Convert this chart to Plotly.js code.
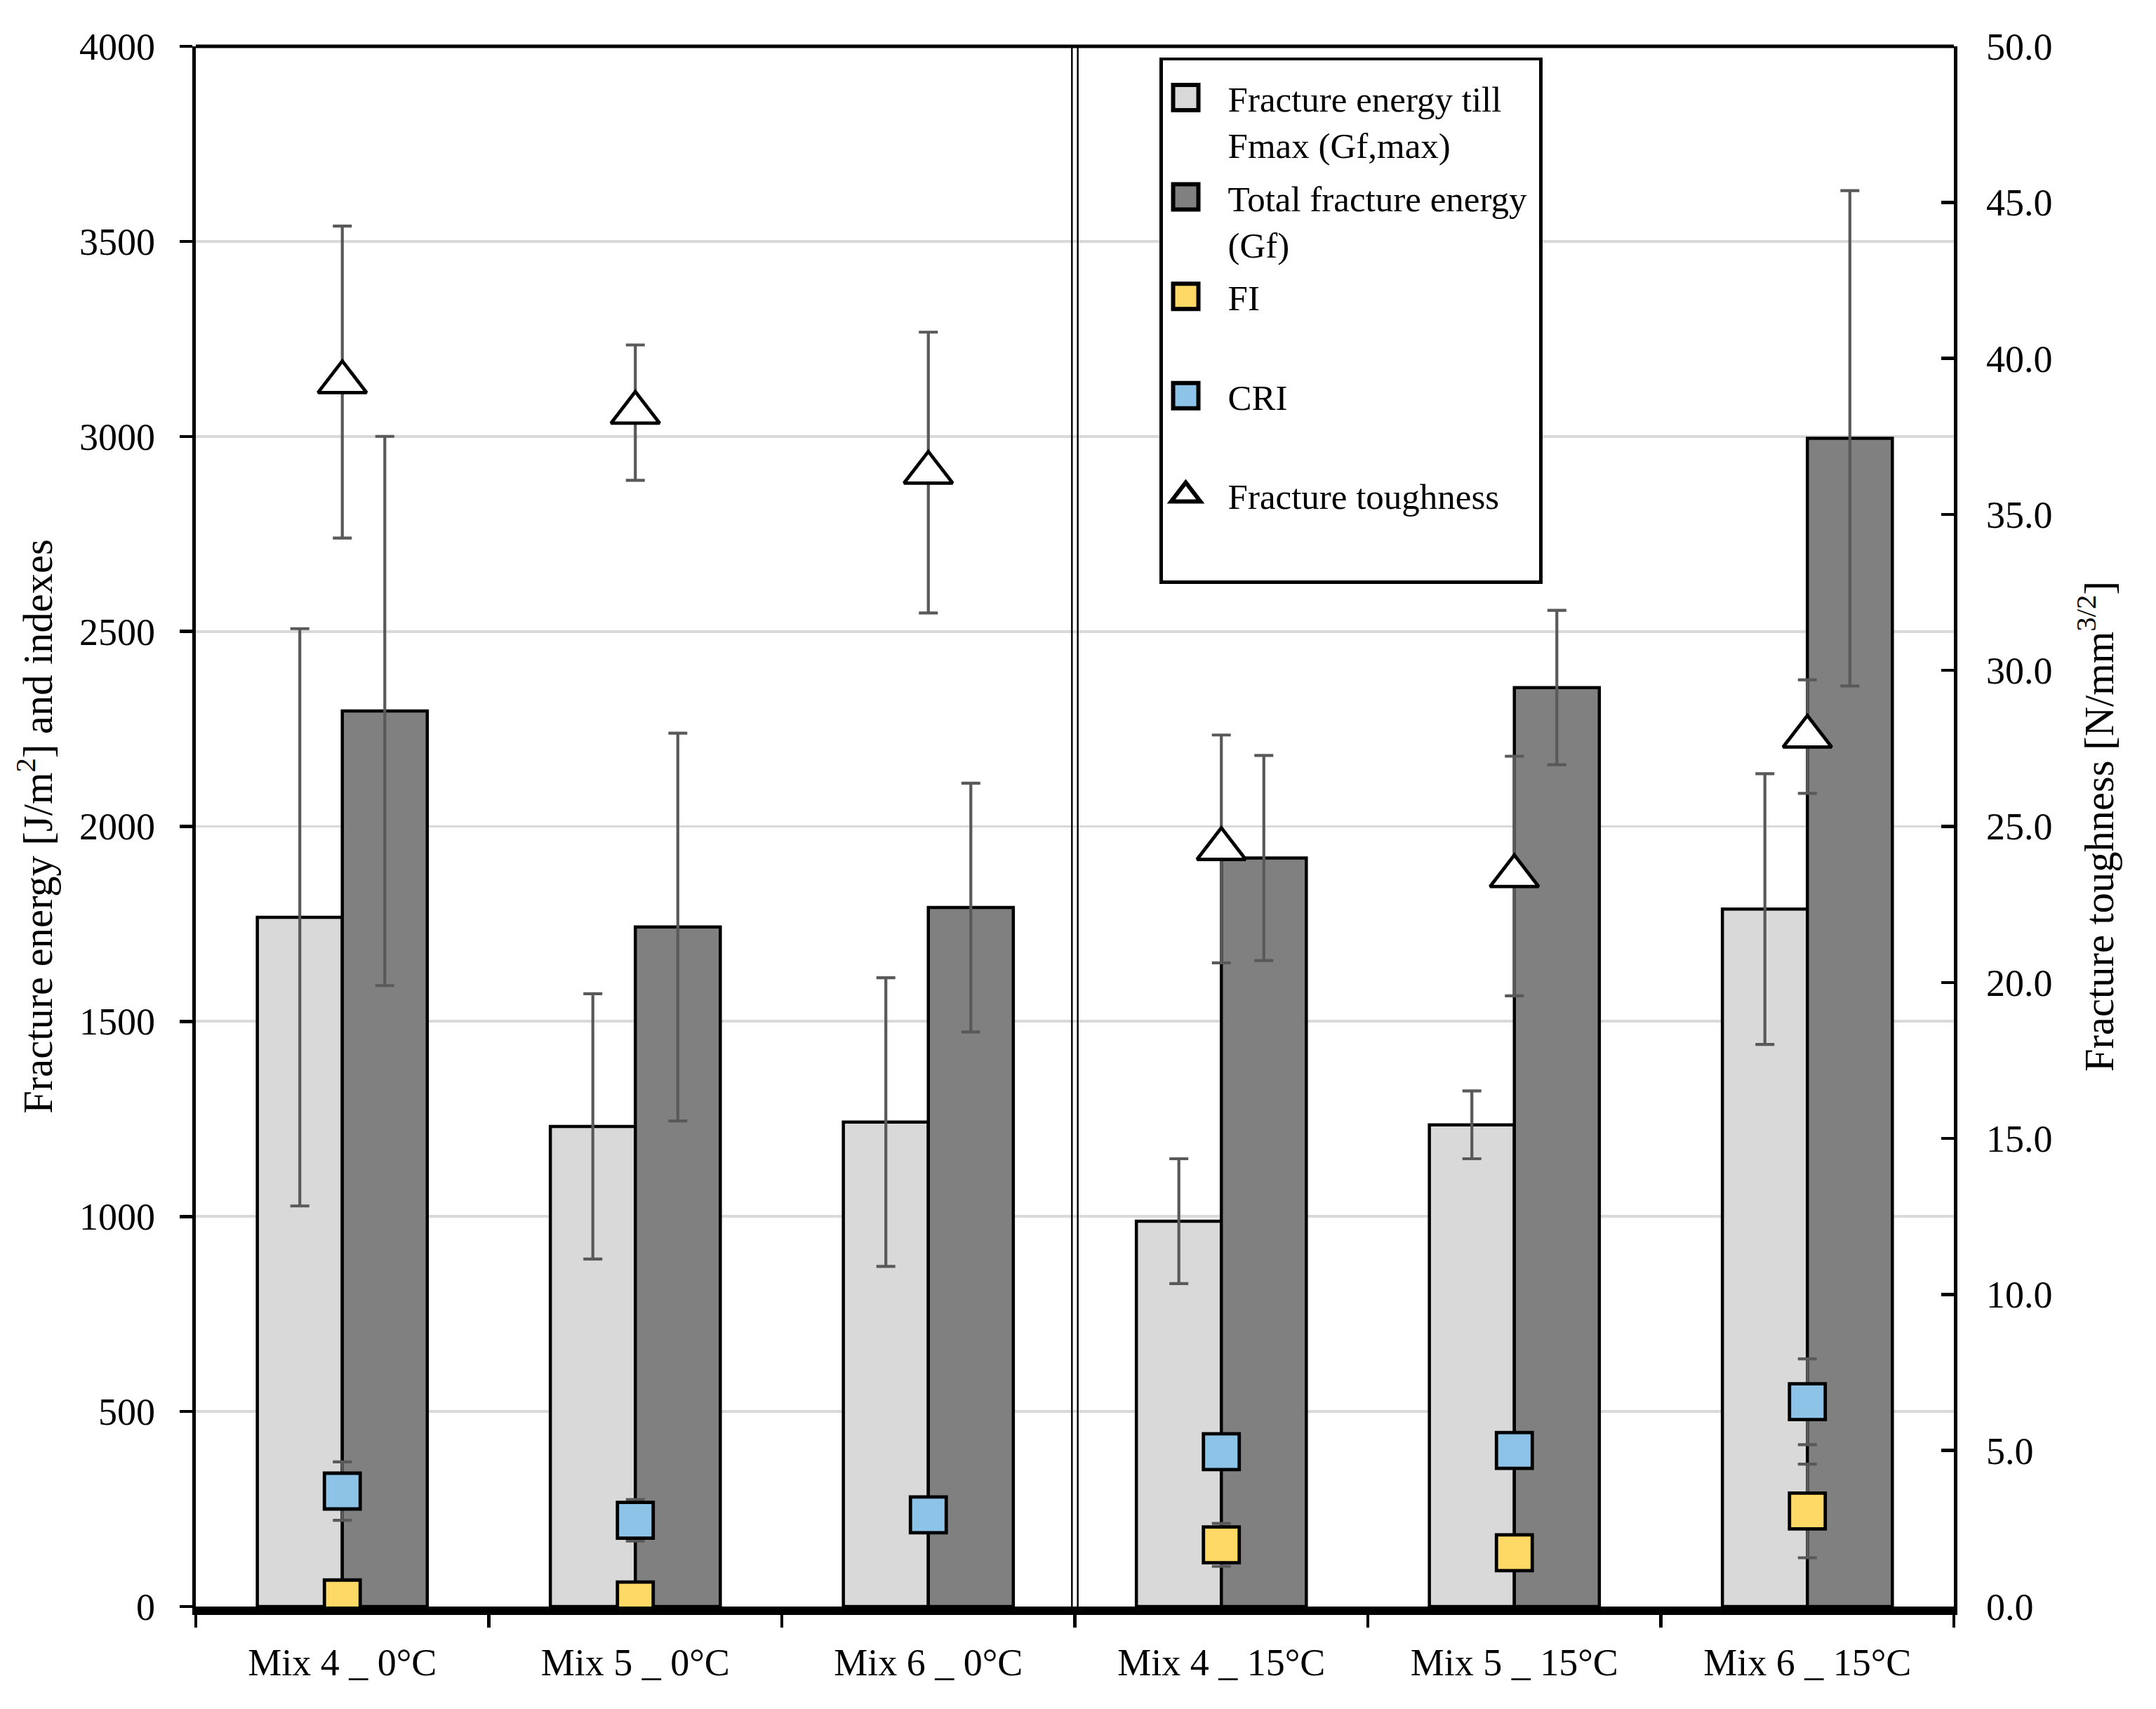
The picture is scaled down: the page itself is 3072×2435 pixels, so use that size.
<!DOCTYPE html>
<html>
<head>
<meta charset="utf-8">
<script src="https://cdn.plot.ly/plotly-3.0.1.min.js"></script>
<style>
  html, body { margin: 0; padding: 0; background: #fff; width: 3072px; height: 2435px; overflow: hidden; }
  #wrap { position: relative; width: 3072px; height: 2435px; }
  #chart { position: absolute; left: 0; top: 0; width: 1024px; height: 812px; transform: scale(3); transform-origin: 0 0; }
</style>
</head>
<body>
<div id="wrap"><div id="chart"></div></div>
<script>
// values
const categories = ["Mix 4 _ 0°C", "Mix 5 _ 0°C", "Mix 6 _ 0°C", "Mix 4 _ 15°C", "Mix 5 _ 15°C", "Mix 6 _ 15°C"];
const gfMax = [1767, 1231, 1242, 988, 1235, 1788];
const gfMaxErr = [740, 340, 370, 160, 87, 347];
const gfTotal = [2296, 1742, 1792, 1919, 2356, 2995];
const gfTotalErr = [704, 497, 319, 263, 198, 635];
const fi = [22, 17, null, 158, 138, 245];
const fiErr = [10, 10, 0, 55, 20, 120];
const cri = [296, 221, 235, 397, 400, 525];
const criErr = [75, 53, 15, 20, 20, 110];
const toughness = [39.24, 38.26, 36.34, 24.28, 23.41, 27.88];
const toughnessErr = [5.0, 2.17, 4.5, 3.65, 3.84, 1.82];

const font = "Liberation Serif, Times New Roman, serif";
const errStyle = (arr) => ({type: "data", array: arr, visible: true, color: "#595959", thickness: 1.4, width: 4.5});

let barMax = {
  x: categories, y: gfMax, type: "bar",
  name: "Fracture energy till<br>Fmax (Gf,max)",
  marker: {color: "#D9D9D9", line: {color: "#000", width: 1.5}},
  error_y: errStyle(gfMaxErr),
};

let barTotal = {
  x: categories, y: gfTotal, type: "bar",
  name: "Total fracture energy<br>(Gf)",
  marker: {color: "#808080", line: {color: "#000", width: 1.5}},
  error_y: errStyle(gfTotalErr),
};

let fiPts = {
  x: categories, y: fi, type: "scatter", mode: "markers",
  name: "FI<br>\u00a0",
  marker: {symbol: "square", size: 17, color: "#FFD966", line: {color: "#000", width: 1.6}},
  error_y: errStyle(fiErr),
};

let criPts = {
  x: categories, y: cri, type: "scatter", mode: "markers",
  name: "CRI<br>\u00a0",
  marker: {symbol: "square", size: 17, color: "#8EC3E8", line: {color: "#000", width: 1.6}},
  error_y: errStyle(criErr),
};

let toughPts = {
  x: categories, y: toughness, type: "scatter", mode: "markers", yaxis: "y2",
  name: "Fracture toughness<br>\u00a0",
  marker: {symbol: "triangle-up", size: 20, color: "#fff", line: {color: "#000", width: 1.6}},
  error_y: errStyle(toughnessErr),
};

let data = [barMax, barTotal, fiPts, criPts, toughPts];

let layout = {
  width: 1024, height: 812,
  margin: {l: 93, r: 96, t: 22, b: 49},
  paper_bgcolor: "#fff", plot_bgcolor: "#fff",
  font: {family: font, size: 18, color: "#000"},
  barmode: "group", bargap: 0.42, bargroupgap: 0,
  showlegend: true,
  legend: {
    x: 0.548, y: 0.993, xanchor: "left", yanchor: "top",
    bgcolor: "#fff", bordercolor: "#000", borderwidth: 1.6,
    font: {family: font, size: 17, color: "#000"},
    valign: "top", itemsizing: "constant", tracegroupgap: 0, indentation: -9,
  },
  xaxis: {
    type: "category", showline: true, linecolor: "#000", linewidth: 4,
    ticks: "outside", tickson: "boundaries", ticklen: 6, tickwidth: 1.5, tickcolor: "#000",
    ticklabelstandoff: 7, showgrid: false, zeroline: false,
  },
  yaxis: {
    range: [0, 4000], dtick: 500, tickformat: "d",
    showline: true, linecolor: "#000", linewidth: 1.7,
    ticks: "outside", ticklen: 6, tickwidth: 1.5, tickcolor: "#000",
    showgrid: true, gridcolor: "#D9D9D9", gridwidth: 1.3, zeroline: false,
    ticklabelstandoff: 8,
    title: {text: "Fracture energy [J/m<sup>2</sup>] and indexes", standoff: 7, font: {family: font, size: 19.5}},
  },
  yaxis2: {
    overlaying: "y", side: "right", range: [0, 50], dtick: 5, tickformat: ".1f",
    showline: true, linecolor: "#000", linewidth: 1.7,
    ticks: "inside", ticklen: 6, tickwidth: 1.5, tickcolor: "#000",
    showgrid: false, zeroline: false, ticklabelstandoff: 10,
    title: {text: "Fracture toughness [N/mm<sup>3/2</sup>]", standoff: 16, font: {family: font, size: 19.5}},
  },
  shapes: [
    // top frame line
    {type: "line", xref: "paper", yref: "paper", x0: 0, x1: 1, y0: 1, y1: 1, line: {color: "#000", width: 1.7}},
    // double separator between 0°C and 15°C groups
    {type: "line", xref: "x", yref: "paper", x0: 2.49, x1: 2.49, y0: 0, y1: 1, line: {color: "#000", width: 0.8}},
    {type: "line", xref: "x", yref: "paper", x0: 2.51, x1: 2.51, y0: 0, y1: 1, line: {color: "#000", width: 0.8}},
  ],
};

Plotly.newPlot("chart", data, layout, {displaylogo: false, displayModeBar: false, staticPlot: true});
</script>
</body>
</html>
